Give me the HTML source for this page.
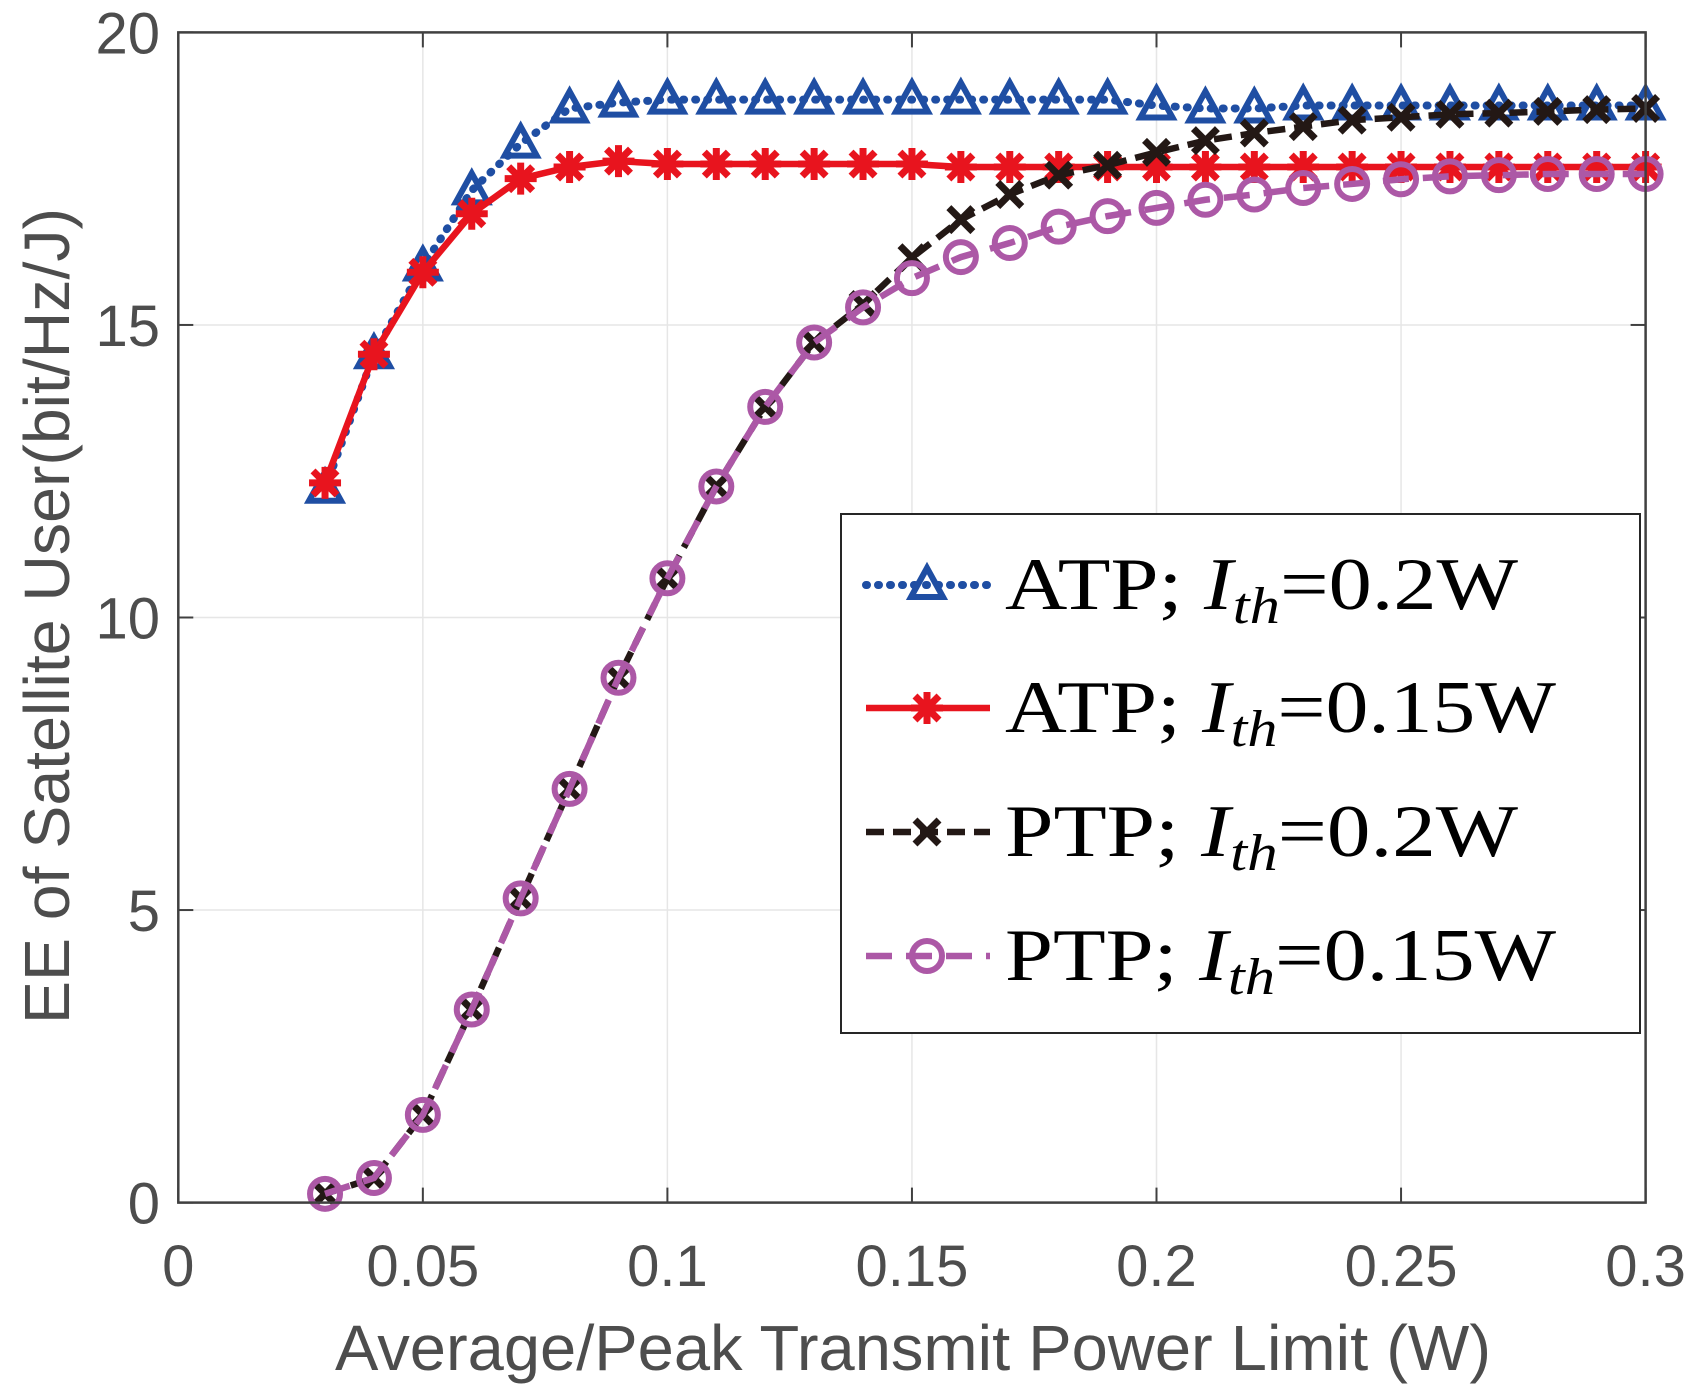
<!DOCTYPE html>
<html><head><meta charset="utf-8"><style>
html,body{margin:0;padding:0;background:#fff;}
svg{display:block;}
</style></head><body>
<svg id="chart" width="1691" height="1388" viewBox="0 0 1691 1388" xmlns="http://www.w3.org/2000/svg">
<g id="grid"></g>
<g id="series"></g>
<g id="axes"></g>
<g id="legend"></g>
</svg>
<script>
const xValues = [0.03,0.04,0.05,0.06,0.07,0.08,0.09,0.10,0.11,0.12,0.13,0.14,0.15,0.16,0.17,0.18,0.19,0.20,0.21,0.22,0.23,0.24,0.25,0.26,0.27,0.28,0.29,0.30];
const atp02 = [12.2,14.5,16.0,17.3,18.1,18.7,18.8,18.85,18.85,18.85,18.85,18.85,18.85,18.85,18.85,18.85,18.85,18.75,18.7,18.7,18.75,18.75,18.75,18.75,18.75,18.75,18.75,18.75];
const atp015 = [12.3,14.5,15.9,16.9,17.5,17.7,17.8,17.75,17.75,17.75,17.75,17.75,17.75,17.7,17.7,17.7,17.7,17.7,17.7,17.7,17.7,17.7,17.7,17.7,17.7,17.7,17.7,17.7];
const ptp02 = [0.15,0.42,1.5,3.3,5.2,7.07,8.97,10.67,12.24,13.6,14.7,15.35,16.15,16.8,17.23,17.56,17.73,17.95,18.15,18.28,18.39,18.5,18.55,18.6,18.62,18.65,18.68,18.7];
const ptp015 = [0.15,0.42,1.5,3.3,5.2,7.07,8.97,10.67,12.24,13.6,14.7,15.3,15.8,16.16,16.4,16.68,16.86,17.0,17.14,17.23,17.34,17.41,17.49,17.54,17.56,17.58,17.58,17.58];
const xTicks = [0,0.05,0.1,0.15,0.2,0.25,0.3];
const xTickLabels = ["0","0.05","0.1","0.15","0.2","0.25","0.3"];
const yTicks = [0,5,10,15,20];
const yTickLabels = ["0","5","10","15","20"];

const NS="http://www.w3.org/2000/svg";
const L=178.3,R=1645.6,T=32.4,B=1202.6;
const xs=v=>L+(v-0)/(0.3-0)*(R-L);
const ys=v=>B-(v-0)/(20-0)*(B-T);
function mk(tag,attrs,parent){const e=document.createElementNS(NS,tag);for(const k in attrs)e.setAttribute(k,attrs[k]);parent.appendChild(e);return e;}
const grid=document.getElementById('grid'),series=document.getElementById('series'),axes=document.getElementById('axes'),legend=document.getElementById('legend');
const axisColor="#404040",textColor="#4d4d4d",font='"Liberation Sans", Arial, sans-serif';

xTicks.forEach((t,i)=>{
  const x=xs(t);
  if(i>0&&i<xTicks.length-1){const g=mk('line',{x1:x,x2:x,y1:T,y2:B,stroke:'#e6e6e6','stroke-width':1.5},grid);}
  const tk=mk('line',{x1:x,x2:x,y1:B,y2:B-15,stroke:axisColor,'stroke-width':2},axes);
  
  const tk2=mk('line',{x1:x,x2:x,y1:T,y2:T+15,stroke:axisColor,'stroke-width':2},axes);
  
  const lb=mk('text',{x:x,y:1286,'text-anchor':'middle','font-family':font,'font-size':58,fill:textColor},axes);
  lb.textContent=xTickLabels[i];
  
});
yTicks.forEach((t,i)=>{
  const y=ys(t);
  if(i>0&&i<yTicks.length-1){const g=mk('line',{x1:L,x2:R,y1:y,y2:y,stroke:'#e6e6e6','stroke-width':1.5},grid);}
  const tk=mk('line',{x1:L,x2:L+15,y1:y,y2:y,stroke:axisColor,'stroke-width':2},axes);
  
  const tk2=mk('line',{x1:R,x2:R-15,y1:y,y2:y,stroke:axisColor,'stroke-width':2},axes);
  
  const lb=mk('text',{x:160,y:y+21,'text-anchor':'end','font-family':font,'font-size':58,fill:textColor},axes);
  lb.textContent=yTickLabels[i];
  
});
const frame=mk('rect',{x:L,y:T,width:R-L,height:B-T,fill:'none',stroke:axisColor,'stroke-width':2.5},axes);

const xl=mk('text',{x:335,y:1370,'font-family':font,'font-size':64,fill:textColor,textLength:1156,lengthAdjust:'spacingAndGlyphs'},axes);
xl.textContent='Average/Peak Transmit Power Limit (W)';

const yl=mk('text',{x:-408,y:0,'font-family':font,'font-size':64,fill:textColor,transform:'translate(69,616) rotate(-90)',textLength:816,lengthAdjust:'spacingAndGlyphs'},axes);
yl.textContent='EE of Satellite User(bit/Hz/J)';


function marker(type,cx,cy,color,parent){
  const g=mk('g',{},parent);
  if(type==='tri'){mk('polygon',{points:`${cx},${cy-17} ${cx-16},${cy+12} ${cx+16},${cy+12}`,fill:'none',stroke:color,'stroke-width':6},g);}
  else if(type==='star'){const s=16;mk('path',{d:`M${cx-s} ${cy}H${cx+s}M${cx} ${cy-s}V${cy+s}M${cx-12} ${cy-12}L${cx+12} ${cy+12}M${cx-12} ${cy+12}L${cx+12} ${cy-12}`,stroke:color,'stroke-width':7},g);}
  else if(type==='x'){const s=12;mk('path',{d:`M${cx-s} ${cy-s}L${cx+s} ${cy+s}M${cx-s} ${cy+s}L${cx+s} ${cy-s}`,stroke:color,'stroke-width':7},g);}
  else {mk('circle',{cx:cx,cy:cy,r:15,fill:'none',stroke:color,'stroke-width':6},g);}
  return g;
}
const seriesDefs=[
 {name:'atp-0.2w',data:atp02,color:'#1f4ea3',dash:'1 11',marker:'tri',label:'ATP; ',val:'=0.2W',len:513},
 {name:'atp-0.15w',data:atp015,color:'#e8141e',dash:'',marker:'star',label:'ATP; ',val:'=0.15W',len:551},
 {name:'ptp-0.2w',data:ptp02,color:'#231815',dash:'18 9',marker:'x',label:'PTP; ',val:'=0.2W',len:513},
 {name:'ptp-0.15w',data:ptp015,color:'#ac58a6',dash:'26 14',marker:'circle',label:'PTP; ',val:'=0.15W',len:551}
];
seriesDefs.forEach(s=>{
  const g=mk('g',{},series);
  
  const pts=s.data.map((v,i)=>xs(xValues[i])+','+ys(v)).join(' ');
  const pl=mk('polyline',{points:pts,fill:'none',stroke:s.color,'stroke-width':s.marker==='tri'?8:6.5,'stroke-dasharray':s.dash,'stroke-linecap':s.marker==='tri'?'round':'butt'},g);
  
  s.data.forEach((v,i)=>{const m=marker(s.marker,xs(xValues[i]),ys(v),s.color,g);
    });
});
const lbox=mk('rect',{x:841,y:514,width:799,height:519,fill:'#fff',stroke:'#262626','stroke-width':2},legend);

const ly=[585,708,832,956];
seriesDefs.forEach((s,i)=>{
  const g=mk('g',{},legend);
  
  const y=ly[i];
  mk('line',{x1:866,x2:990,y1:y,y2:y,stroke:s.color,'stroke-width':s.marker==='tri'?8:6.5,'stroke-dasharray':s.dash,'stroke-linecap':s.marker==='tri'?'round':'butt'},g);
  marker(s.marker,927,y,s.color,g);
  const t=mk('text',{x:1005,y:y+24,'font-family':'"Liberation Serif", serif','font-size':74,fill:'#000',textLength:s.len,lengthAdjust:'spacingAndGlyphs'},g);
  
  const a=mk('tspan',{},t);a.textContent=s.label;
  const b=mk('tspan',{'font-style':'italic'},t);b.textContent='I';
  const c=mk('tspan',{'font-style':'italic','font-size':52,dy:14},t);c.textContent='th';
  const d=mk('tspan',{dy:-14},t);d.textContent=s.val;
});
</script>
</body></html>
